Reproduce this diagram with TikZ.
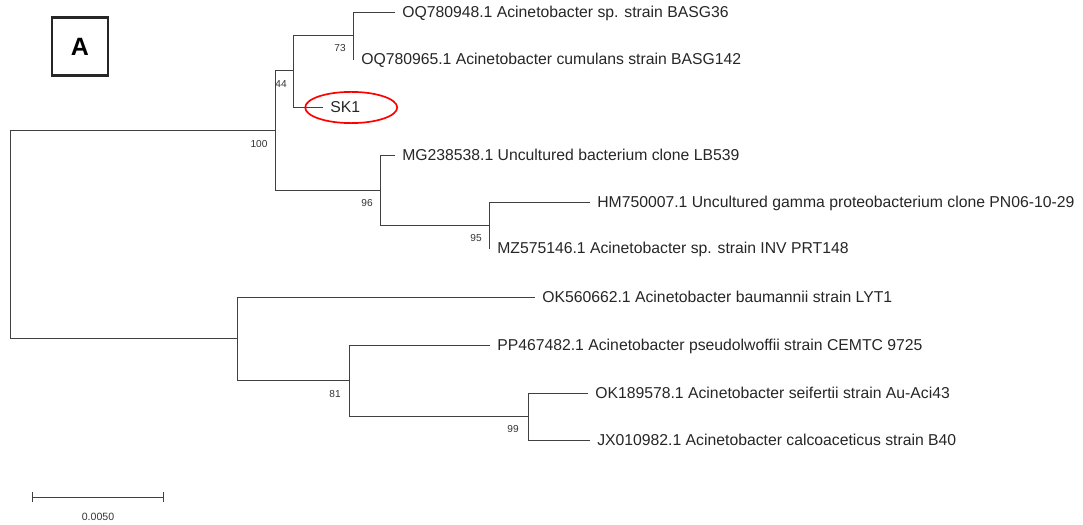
\documentclass[tikz,border=0pt]{standalone}
\usepackage{fontspec}
\setmainfont{Liberation Sans}
\begin{document}
\begin{tikzpicture}[x=0.025cm, y=-0.025cm,
        branch/.style={draw=black!75, line width=0.65pt},
        leaf/.style={anchor=west, inner xsep=5pt, inner ysep=0pt, text height=8pt, text depth=0pt,
            font=\fontsize{11.2}{13}\selectfont, text=black!85},
        boot/.style={inner sep=0pt, font=\fontsize{7.2}{8}\selectfont, text=black!80}]
                \useasboundingbox (0,0) rectangle (1083,525);
                \path (10, 234) coordinate (root);
                \path (275, 130) coordinate (n100);
                \path (293, 70) coordinate (n44);
                \path (353, 35) coordinate (n73);
                \path (380, 190) coordinate (n96);
                \path (489, 225) coordinate (n95);
                \path (237, 338) coordinate (nlow);
                \path (349, 380) coordinate (n81);
                \path (528, 416) coordinate (n99);
                \node[leaf] (oq948) at (395, 12) {OQ780948.1 Acinetobacter sp. strain BASG36};
                \node[leaf] (oq965) at (354, 59) {OQ780965.1 Acinetobacter cumulans strain BASG142};
                \node[leaf] (sk1) at (323, 107) {SK1};
                \node[leaf] (mg) at (395, 155) {MG238538.1 Uncultured bacterium clone LB539};
                \node[leaf] (hm) at (590, 202) {HM750007.1 Uncultured gamma proteobacterium clone PN06-10-29};
                \node[leaf] (mz) at (490, 248) {MZ575146.1 Acinetobacter sp. strain INV PRT148};
                \node[leaf] (ok560) at (535, 297) {OK560662.1 Acinetobacter baumannii strain LYT1};
                \node[leaf] (pp) at (490, 345) {PP467482.1 Acinetobacter pseudolwoffii strain CEMTC 9725};
                \node[leaf] (ok189) at (588, 393) {OK189578.1 Acinetobacter seifertii strain Au-Aci43};
                \node[leaf] (jx) at (590, 440) {JX010982.1 Acinetobacter calcoaceticus strain B40};
                \draw[branch] (root) |- (n100);
                \draw[branch] (root) |- (nlow);
                \draw[branch] (n100) |- (n44);
                \draw[branch] (n100) |- (n96);
                \draw[branch] (n44) |- (n73);
                \draw[branch] (n44) |- (sk1.west);
                \draw[branch] (n73) |- (oq948.west);
                \draw[branch] (n73) |- (oq965.west);
                \draw[branch] (n96) |- (mg.west);
                \draw[branch] (n96) |- (n95);
                \draw[branch] (n95) |- (hm.west);
                \draw[branch] (n95) |- (mz.west);
                \draw[branch] (nlow) |- (ok560.west);
                \draw[branch] (nlow) |- (n81);
                \draw[branch] (n81) |- (pp.west);
                \draw[branch] (n81) |- (n99);
                \draw[branch] (n99) |- (ok189.west);
                \draw[branch] (n99) |- (jx.west);
                \node[boot] (b73) at (340, 48) {73};
                \node[boot] (b44) at (281, 84) {44};
                \node[boot] (b100) at (259, 144) {100};
                \node[boot] (b96) at (367, 203) {96};
                \node[boot] (b95) at (476, 238) {95};
                \node[boot] (b81) at (335, 394) {81};
                \node[boot] (b99) at (513, 429) {99};
                \draw[red, line width=1.2pt] (sk1.center) ++(6, 0.5) ellipse [x radius=1.15cm, y radius=0.39cm];
                \node[draw=black!85, line width=1.5pt, minimum width=1.4cm, minimum height=1.45cm,
                    font=\fontsize{17.8}{20}\bfseries\selectfont] (panel) at (80, 46.5) {A};
                \path (32, 497) coordinate (sbl);
                \path (164, 497) coordinate (sbr);
                \draw[branch, |-|] (sbl) -- (sbr);
                \node[boot, font=\fontsize{7.5}{9}\selectfont] (sblabel) at (98, 517) {0.0050};
\end{tikzpicture}
\end{document}
